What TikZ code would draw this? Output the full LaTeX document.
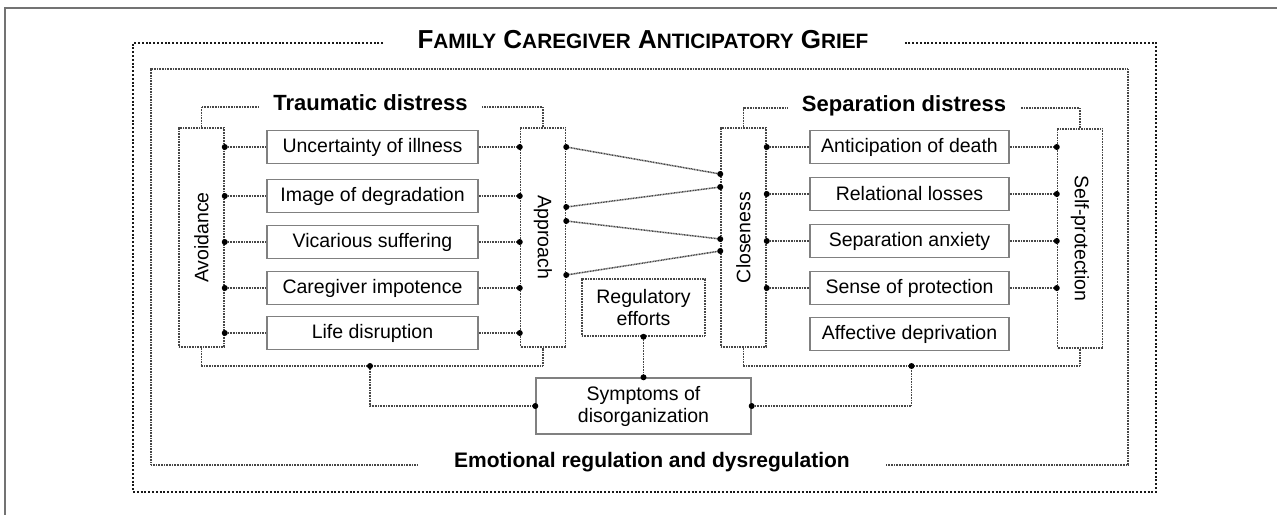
\documentclass[tikz,border=0pt]{standalone}
\usepackage{fontspec}
\setmainfont{Liberation Sans}
\newcommand\smallcap[1]{{\fontsize{10.4}{12}\selectfont #1}}
\begin{document}
\begin{tikzpicture}[x=0.5pt,y=-0.5pt,
  link/.style={draw=black!72,line width=0.75pt,dash pattern=on 0.5pt off 0.3pt},
  outerline/.style={draw=black!90,line width=1.3pt,dash pattern=on 1pt off 0.9pt},
  item/.style={draw=black!50,line width=0.7pt,minimum width=105.5pt,minimum height=16.5pt,
    inner sep=0pt,font=\fontsize{9.75}{11}\selectfont,text=black},
  pillar/.style={link,minimum width=22.5pt,minimum height=109.5pt,inner sep=0pt},
  dot/.style={circle,fill=black,inner sep=0pt,minimum size=3pt},
  head/.style={font=\fontsize{11}{13}\selectfont\bfseries,inner xsep=7pt,inner ysep=0pt},
  lbl/.style={font=\fontsize{9.75}{11}\selectfont,text=black}]
  \useasboundingbox (0,0) rectangle (1277,515);
  \draw[black!55,line width=0.8pt] (1277,8) -- (5,8) -- (5,515);
  % outer frame and title
  \node[font=\fontsize{13}{15}\selectfont\bfseries,inner xsep=17pt,inner ysep=0pt,anchor=base] (title) at (643,48)
    {F\smallcap{AMILY} C\smallcap{AREGIVER} A\smallcap{NTICIPATORY} G\smallcap{RIEF}};
  \draw[outerline] (title.west |- 0,43) -- (133,43) -- (133,492) -- (1156,492) -- (1156,43) -- (title.east |- 0,43);
  % inner frame
  \node[head,font=\fontsize{10.5}{12}\selectfont\bfseries,inner xsep=18pt,anchor=base] (emo) at (652,467)
    {Emotional regulation and dysregulation};
  \draw[link] (emo.west |- 0,465) -- (151,465) -- (151,69) -- (1128,69) -- (1128,465) -- (emo.east |- 0,465);
  % pillars
  \node[pillar] (avoid) at (201.5,237.5) {};
  \node[pillar] (appr) at (543,237.5) {};
  \node[pillar] (clos) at (743.5,237.5) {};
  \node[pillar] (selfp) at (1080,238.5) {};
  \node[lbl,rotate=90] at (avoid) {Avoidance};
  \node[lbl,rotate=-90] at (appr) {Approach};
  \node[lbl,rotate=90] at (clos) {Closeness};
  \node[lbl,rotate=-90] at (selfp) {Self-protection};
  % headers
  \node[head,anchor=base] (td) at (370.5,110) {Traumatic distress};
  \draw[link] (avoid.north) |- (td.west |- 0,107);
  \draw[link] (appr.north) |- (td.east |- 0,107);
  \node[head,anchor=base] (sd) at (904,111) {Separation distress};
  \draw[link] (clos.north) |- (sd.west |- 0,108);
  \draw[link] (selfp.north) |- (sd.east |- 0,108);
  % traumatic items
  \foreach \n/\y/\t in {t1/147/Uncertainty of illness,t2/196/Image of degradation,
      t3/242/Vicarious suffering,t4/288/Caregiver impotence,t5/333/Life disruption}{
    \node[item] (\n) at (372.5,\y) {\t};
    \draw[link] (avoid.east |- \n) node[dot]{} -- (\n.west);
    \draw[link] (\n.east) -- (appr.west |- \n) node[dot]{};
  }
  % separation items
  \foreach \n/\y/\t in {s1/147/Anticipation of death,s2/194/Relational losses,
      s3/241/Separation anxiety,s4/288/Sense of protection}{
    \node[item,minimum width=99.5pt] (\n) at (909.5,\y) {\t};
    \draw[link] (clos.east |- \n) node[dot]{} -- (\n.west);
    \draw[link] (\n.east) -- (selfp.west |- \n) node[dot]{};
  }
  \node[item,minimum width=99.5pt] (s5) at (909.5,334) {Affective deprivation};
  % approach to closeness
  \foreach \ya/\yb in {147/174,207/187,221/239,275/251}
    \draw[link] (appr.east |- 0,\ya) node[dot]{} -- (clos.west |- 0,\yb) node[dot]{};
  % regulation
  \node[item,link,minimum width=61.5pt,minimum height=28.5pt,align=center] (reg) at (643.5,307.5) {Regulatory\\efforts};
  \node[item,minimum width=107.5pt,minimum height=28pt,align=center] (symp) at (643.5,406) {Symptoms of\\disorganization};
  \draw[link] (reg.south) node[dot]{} -- (symp.north) node[dot]{};
  \coordinate (lj) at (370,366);
  \coordinate (rj) at (911.5,366);
  \draw[link] (avoid.south) |- (lj) -| (appr.south);
  \draw[link] (clos.south) |- (rj) -| (selfp.south);
  \draw[link] (lj) node[dot]{} |- (symp.west) node[dot]{};
  \draw[link] (symp.east) node[dot]{} -| (rj) node[dot]{};
\end{tikzpicture}
\end{document}
